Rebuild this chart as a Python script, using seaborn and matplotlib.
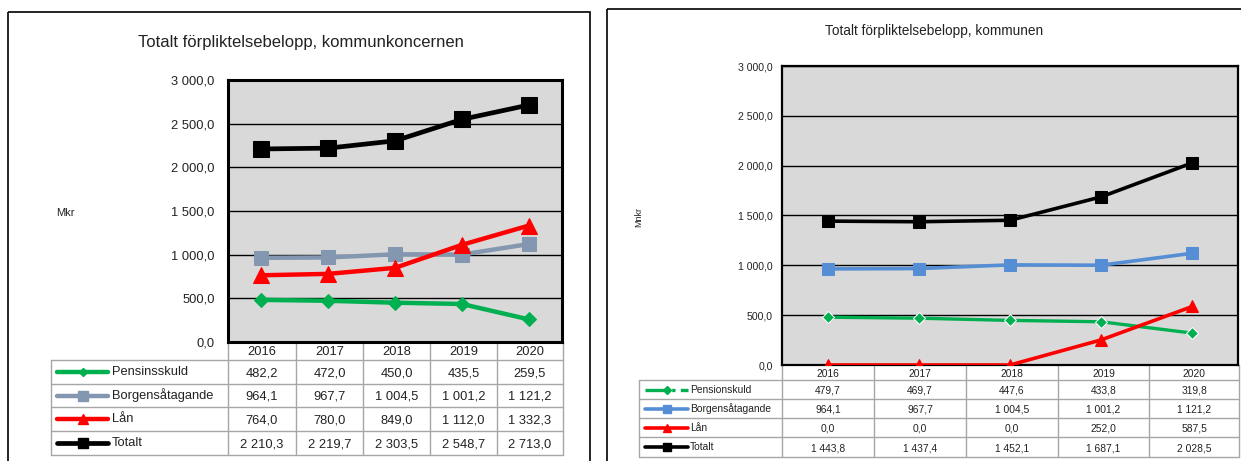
import numpy as np
import matplotlib
matplotlib.use("Agg")
import matplotlib.pyplot as plt
import seaborn as sns
from matplotlib.lines import Line2D
from matplotlib.patches import Rectangle

# --- data ---
years = [2016, 2017, 2018, 2019, 2020]

# kommunkoncernen (vänster)
koncern_names = ["Pensinsskuld", "Borgensåtagande", "Lån", "Totalt"]
koncern_pension = [482.2, 472.0, 450.0, 435.5, 259.5]
koncern_borgen = [964.1, 967.7, 1004.5, 1001.2, 1121.2]
koncern_lan = [764.0, 780.0, 849.0, 1112.0, 1332.3]
koncern_totalt = [2210.3, 2219.7, 2303.5, 2548.7, 2713.0]

# kommunen (höger)
kommun_names = ["Pensionskuld", "Borgensåtagande", "Lån", "Totalt"]
kommun_pension = [479.7, 469.7, 447.6, 433.8, 319.8]
kommun_borgen = [964.1, 967.7, 1004.5, 1001.2, 1121.2]
kommun_lan = [0.0, 0.0, 0.0, 252.0, 587.5]
kommun_totalt = [1443.8, 1437.4, 1452.1, 1687.1, 2028.5]

y_ticks = [0, 500, 1000, 1500, 2000, 2500, 3000]

sns.set_style("white")
plt.rcParams['font.family'] = ['Liberation Sans', 'DejaVu Sans']

W, H = 1241, 461
fig = plt.figure(figsize=(W / 100, H / 100), dpi=100)

# overlay i pixelkoordinater för ramar och tabeller
ov = fig.add_axes([0, 0, 1, 1], zorder=0)
ov.set_xlim(0, W)
ov.set_ylim(H, 0)
ov.axis("off")


def sv(v):
    # svensk talformat: 1 004,5
    return f"{v:,.1f}".replace(",", " ").replace(".", ",")


def make_axes(x0, x1, y0, y1):
    ax = fig.add_axes([x0 / W, 1 - y1 / H, (x1 - x0) / W, (y1 - y0) / H], zorder=2)
    return ax


def style_axes(ax, fs, spine_lw, pad):
    ax.set_facecolor("#D9D9D9")
    ax.set_xlim(2015.5, 2020.5)
    ax.set_ylim(0, 3000)
    ax.set_yticks(y_ticks)
    ax.set_yticklabels([sv(t) for t in y_ticks], fontsize=fs, color="#222222")
    ax.set_xticks([])
    ax.tick_params(axis="y", length=0, pad=pad)
    ax.grid(axis="y", color="black", linewidth=1)
    ax.set_axisbelow(True)
    for s in ax.spines.values():
        s.set_color("black")
        s.set_linewidth(spine_lw)
    ax.set_xlabel("")
    ax.set_ylabel("")


def draw_table(x_left, x_cols, y_rows, names, series, styles, fs, line_x, text_x, head_fs):
    # x_cols: kolumngränser för åren, y_rows: [axelbotten, header-slut, rad1, ...]
    gc = "#A6A6A6"
    top = y_rows[0]
    bottom = y_rows[-1]
    for x in x_cols:
        ov.plot([x, x], [top, bottom], color=gc, lw=1)
    ov.plot([x_left, x_left], [y_rows[1], bottom], color=gc, lw=1)
    for y in y_rows[1:]:
        ov.plot([x_left, x_cols[-1]], [y, y], color=gc, lw=1)
    # år
    for i, yr in enumerate(years):
        cx = (x_cols[i] + x_cols[i + 1]) / 2
        ov.text(cx, (y_rows[0] + y_rows[1]) / 2 + 1, str(yr), ha="center", va="center",
                fontsize=head_fs, color="#222222")
    # rader
    for r, (name, vals, st) in enumerate(zip(names, series, styles)):
        cy = (y_rows[r + 1] + y_rows[r + 2]) / 2
        for i, v in enumerate(vals):
            cx = (x_cols[i] + x_cols[i + 1]) / 2
            ov.text(cx, cy + 1, sv(v), ha="center", va="center", fontsize=fs, color="#222222")
        ov.add_line(Line2D([line_x[0], line_x[1]], [cy, cy], color=st["color"],
                           lw=st["lw"], ls=st.get("leg_ls", "-")))
        ov.plot([(line_x[0] + line_x[1]) / 2], [cy], marker=st["marker"],
                color=st["color"], markersize=st["ms"] * 0.65, ls="none",
                markeredgecolor=st["color"])
        ov.text(text_x, cy, name, ha="left", va="center", fontsize=fs, color="#222222")


# ---------------- vänster: kommunkoncernen ----------------
ov.add_patch(Rectangle((8, 12.5), 582, 470, fill=False, ec="black", lw=1.2))
ax1 = make_axes(228, 562, 80, 342)

left_styles = [
    dict(color="#00B050", marker="D", ms=7, lw=3.2, mec="#00B050"),
    dict(color="#8497B0", marker="s", ms=10, lw=3.2, mec="#8497B0"),
    dict(color="#FF0000", marker="^", ms=11, lw=3.2, mec="#FF0000"),
    dict(color="#000000", marker="s", ms=11, lw=3.4, mec="#000000"),
]
left_series = [koncern_pension, koncern_borgen, koncern_lan, koncern_totalt]
for vals, st in zip(left_series, left_styles):
    sns.lineplot(x=years, y=vals, ax=ax1, color=st["color"], marker=st["marker"],
                 markersize=st["ms"], linewidth=st["lw"], markeredgecolor=st["mec"],
                 clip_on=False, zorder=3)
style_axes(ax1, 9.3, 2.2, 9.5)

ov.text(301, 42, "Totalt förpliktelsebelopp, kommunkoncernen", ha="center", va="center",
        fontsize=12, color="#222222")
ov.text(56, 213, "Mkr", ha="left", va="center", fontsize=8, color="#222222")

draw_table(51, [228, 296, 363, 430, 497, 563], [342, 360, 384, 407, 431, 455],
           koncern_names, left_series, left_styles, fs=9.3,
           line_x=(57, 108), text_x=112, head_fs=9.3)

# ---------------- höger: kommunen ----------------
ov.add_patch(Rectangle((607, 9.5), 700, 470, fill=False, ec="black", lw=1.2))
ax2 = make_axes(782, 1238, 66, 365)

right_styles = [
    dict(color="#00B050", marker="D", ms=6, lw=2.4, mec="white", leg_ls="-."),
    dict(color="#558ED5", marker="s", ms=8, lw=2.6, mec="#558ED5"),
    dict(color="#FF0000", marker="^", ms=8.5, lw=2.6, mec="#FF0000"),
    dict(color="#000000", marker="s", ms=8, lw=2.6, mec="#000000"),
]
right_series = [kommun_pension, kommun_borgen, kommun_lan, kommun_totalt]
for vals, st in zip(right_series, right_styles):
    sns.lineplot(x=years, y=vals, ax=ax2, color=st["color"], marker=st["marker"],
                 markersize=st["ms"], linewidth=st["lw"], markeredgecolor=st["mec"],
                 zorder=3)
style_axes(ax2, 7.6, 1.6, 6.5)

ov.text(934, 31, "Totalt förpliktelsebelopp, kommunen", ha="center", va="center",
        fontsize=9.8, color="#222222")
ov.text(639, 217, "Mnkr", ha="center", va="center", rotation=90, fontsize=6.5,
        color="#222222")

draw_table(639, [782, 874, 966, 1058, 1149, 1239], [365, 380, 399, 418, 437, 457],
           kommun_names, right_series, right_styles, fs=7.4,
           line_x=(645, 688), text_x=690, head_fs=7.4)

fig.savefig("out.png", dpi=100)
